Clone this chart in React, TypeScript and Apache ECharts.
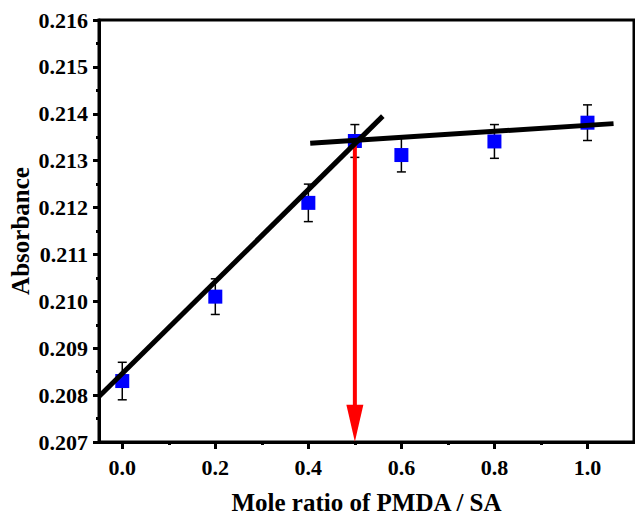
import React, { useEffect, useRef } from "react";
import * as echarts from "echarts";

const xs = [0, 0.2, 0.4, 0.5, 0.6, 0.8, 1.0];
const ys = [0.2083, 0.2101, 0.2121, 0.21342, 0.21312, 0.21341, 0.21381];
const errs = [0.0004, 0.00038, 0.0004, 0.00035, 0.00036, 0.00036, 0.00038];
const fitRising = [[-0.05, 0.20797], [0.56, 0.21395]];
const fitPlateau = [[0.404, 0.21337], [1.056, 0.21379]];
const arrowLine = [[0.5, 0.21337], [0.5, 0.2074]];
const xTickMin = 0;
const xTickMax = 1.0;
const yMin = 0.207;
const yMax = 0.216;
const xMin = -0.05;
const xMax = 1.1;

export default function App() {
  const ref = useRef<HTMLDivElement>(null);
  useEffect(() => {
    const chart = echarts.init(ref.current!, null, { renderer: "svg" });
    const W = 635;
    const left = 99, right = 1, top = 20, bottom = 73;
    const gw = W - left - right;
    const pxPerUnit = gw / (xMax - xMin);
    const left2 = left + (xTickMin - xMin) * pxPerUnit;
    const right2 = W - (left + (xTickMax - xMin) * pxPerUnit);
    const font = "Liberation Serif";
    const scatterData = xs.map((x, i) => [x, ys[i]]);
    const errData = xs.map((x, i) => [x, ys[i] - errs[i], ys[i] + errs[i]]);
    chart.setOption({
      animation: false,
      backgroundColor: "#fff",
      grid: [
        { left, right, top, bottom, show: true, borderColor: "#000", borderWidth: 3, containLabel: false, outerBoundsMode: "none" },
        { left: left2, right: right2, top, bottom, show: false, containLabel: false, outerBoundsMode: "none" },
      ],
      xAxis: [
        {
          type: "value",
          gridIndex: 0,
          min: xMin,
          max: xMax,
          axisLine: { show: true, onZero: false, lineStyle: { color: "#000", width: 3 } },
          axisTick: { show: false },
          axisLabel: { show: false },
          splitLine: { show: false },
          name: "Mole ratio of PMDA / SA",
          nameLocation: "middle",
          nameGap: 48,
          nameMoveOverlap: false,
          nameTextStyle: { fontFamily: font, fontWeight: "bold", fontSize: 25, color: "#000" },
        },
        {
          type: "value",
          gridIndex: 1,
          min: xTickMin,
          max: xTickMax,
          interval: 0.2,
          axisLine: { show: false, onZero: false },
          axisTick: { show: true, length: 7, lineStyle: { color: "#000", width: 3 } },
          minorTick: { show: true, splitNumber: 2, length: 3, lineStyle: { color: "#000", width: 3 } },
          axisLabel: {
            margin: 14,
            fontFamily: font,
            fontWeight: "bold",
            fontSize: 22,
            color: "#000",
            formatter: (v: number) => v.toFixed(1),
          },
          splitLine: { show: false },
        },
      ],
      yAxis: [
        {
          type: "value",
          gridIndex: 0,
          min: yMin,
          max: yMax,
          interval: 0.001,
          axisLine: { show: true, onZero: false, lineStyle: { color: "#000", width: 3 } },
          axisTick: { show: true, length: 6, lineStyle: { color: "#000", width: 3 } },
          minorTick: { show: true, splitNumber: 2, length: 3, lineStyle: { color: "#000", width: 3 } },
          axisLabel: {
            margin: 11,
            fontFamily: font,
            fontWeight: "bold",
            fontSize: 22,
            color: "#000",
            formatter: (v: number) => v.toFixed(3),
          },
          splitLine: { show: false },
          name: "Absorbance",
          nameLocation: "middle",
          nameGap: 66,
          nameMoveOverlap: false,
          nameTextStyle: { fontFamily: font, fontWeight: "bold", fontSize: 25, color: "#000" },
        },
        {
          type: "value",
          gridIndex: 1,
          min: yMin,
          max: yMax,
          show: false,
          axisLine: { show: false, onZero: false },
          axisTick: { show: false },
          axisLabel: { show: false },
          splitLine: { show: false },
        },
      ],
      series: [
        {
          type: "custom",
          xAxisIndex: 0,
          yAxisIndex: 0,
          z: 2,
          encode: { x: 0, y: [1, 2] },
          data: errData,
          renderItem: (params: any, api: any) => {
            const x = api.value(0);
            const pLo = api.coord([x, api.value(1)]);
            const pHi = api.coord([x, api.value(2)]);
            const cap = 4.5;
            const style = { stroke: "#000", lineWidth: 1.5 };
            return {
              type: "group",
              children: [
                { type: "line", shape: { x1: pLo[0], y1: pLo[1], x2: pHi[0], y2: pHi[1] }, style },
                { type: "line", shape: { x1: pHi[0] - cap, y1: pHi[1], x2: pHi[0] + cap, y2: pHi[1] }, style },
                { type: "line", shape: { x1: pLo[0] - cap, y1: pLo[1], x2: pLo[0] + cap, y2: pLo[1] }, style },
              ],
            };
          },
        },
        {
          type: "scatter",
          xAxisIndex: 0,
          yAxisIndex: 0,
          z: 3,
          symbol: "rect",
          symbolSize: 14,
          itemStyle: { color: "#0000ff", opacity: 1 },
          data: scatterData,
        },
        {
          type: "line",
          xAxisIndex: 0,
          yAxisIndex: 0,
          z: 4,
          data: [
            { value: arrowLine[0], symbol: "none" },
            { value: arrowLine[1], symbol: "triangle", symbolSize: [17, 37], symbolRotate: 180 },
          ],
          showSymbol: true,
          lineStyle: { color: "#ff0000", width: 4 },
          itemStyle: { color: "#ff0000", opacity: 1 },
        },
        {
          type: "line",
          xAxisIndex: 0,
          yAxisIndex: 0,
          z: 5,
          data: fitRising,
          symbol: "none",
          lineStyle: { color: "#000", width: 5 },
        },
        {
          type: "line",
          xAxisIndex: 0,
          yAxisIndex: 0,
          z: 5,
          data: fitPlateau,
          symbol: "none",
          lineStyle: { color: "#000", width: 5 },
        },
      ],
    });
    return () => chart.dispose();
  }, []);
  return (
    <div
      ref={ref}
      style={{ position: "fixed", left: 0, top: 0, width: 635, height: 515 }}
    />
  );
}
